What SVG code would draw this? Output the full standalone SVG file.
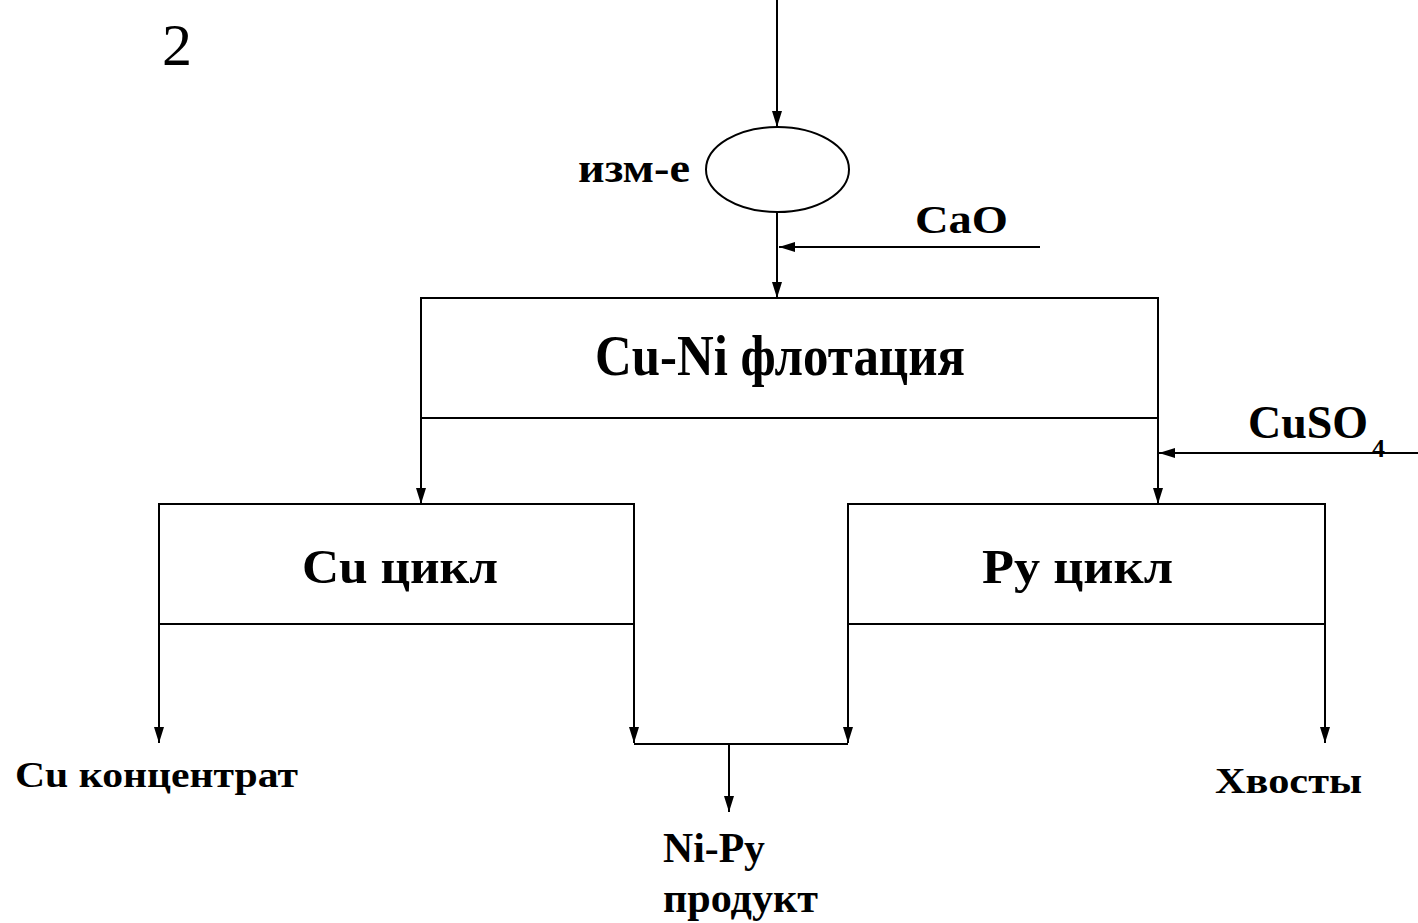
<svg xmlns="http://www.w3.org/2000/svg" width="1418" height="923" viewBox="0 0 1418 923">
<style>
.ln{stroke:#000;stroke-width:2;fill:none}
.bx{stroke:#000;stroke-width:2;fill:#fff}
text{font-family:Liberation Serif,Times New Roman,Times,serif;fill:#000}
.t{font-weight:bold}
</style>
<defs>
<marker id="ahl" viewBox="0 0 16 12" refX="16" refY="6" markerWidth="16" markerHeight="12" markerUnits="userSpaceOnUse" orient="auto">
<path d="M0,1 L16,6 L0,11 Z" fill="#000"/>
</marker>
</defs>
<rect width="1418" height="923" fill="#fff"/>
<text x="162" y="65" font-family="Liberation Serif, serif" font-size="60">2</text>
<g id="connectors">
<line class="ln" x1="777" y1="0" x2="777" y2="127" marker-end="url(#ahl)"/>
<line class="ln" x1="777" y1="212" x2="777" y2="298" marker-end="url(#ahl)"/>
<line class="ln" x1="1040" y1="247" x2="779" y2="247" marker-end="url(#ahl)"/>
<line class="ln" x1="1418" y1="453" x2="1159" y2="453" marker-end="url(#ahl)"/>
<line class="ln" x1="421" y1="418" x2="421" y2="504" marker-end="url(#ahl)"/>
<line class="ln" x1="1158" y1="418" x2="1158" y2="504" marker-end="url(#ahl)"/>
<line class="ln" x1="159" y1="624" x2="159" y2="743" marker-end="url(#ahl)"/>
<line class="ln" x1="634" y1="624" x2="634" y2="743" marker-end="url(#ahl)"/>
<line class="ln" x1="848" y1="624" x2="848" y2="743" marker-end="url(#ahl)"/>
<line class="ln" x1="1325" y1="624" x2="1325" y2="743" marker-end="url(#ahl)"/>
<line class="ln" x1="634" y1="744" x2="848" y2="744"/>
<line class="ln" x1="729" y1="744" x2="729" y2="812" marker-end="url(#ahl)"/>
</g>
<g id="grinding">
<ellipse class="bx" cx="777.5" cy="169.5" rx="71.5" ry="42.5"/>
<text class="t" font-family="Liberation Serif, serif" x="578" y="182" font-size="42" textLength="112" lengthAdjust="spacingAndGlyphs">изм-е</text>
</g>
<g id="cao">
<text class="t" font-family="Liberation Serif, serif" x="915" y="233" font-size="40" textLength="93" lengthAdjust="spacingAndGlyphs">CaO</text>
</g>
<g id="cuni-flotation">
<rect class="bx" x="421" y="298" width="737" height="120"/>
<text class="t" font-family="Liberation Serif, serif" x="595" y="375" font-size="58" textLength="370" lengthAdjust="spacingAndGlyphs">Cu-Ni флотация</text>
</g>
<g id="cuso4">
<text class="t" font-family="Liberation Serif, serif" x="1248" y="438" font-size="47" textLength="120" lengthAdjust="spacingAndGlyphs">CuSO</text>
<text class="t" font-family="Liberation Serif, serif" x="1372" y="457" font-size="26">4</text>
</g>
<g id="cu-cycle">
<rect class="bx" x="159" y="504" width="475" height="120"/>
<text class="t" font-family="Liberation Serif, serif" x="302" y="583" font-size="49" textLength="196" lengthAdjust="spacingAndGlyphs">Cu цикл</text>
</g>
<g id="py-cycle">
<rect class="bx" x="848" y="504" width="477" height="120"/>
<text class="t" font-family="Liberation Serif, serif" x="982" y="583" font-size="49" textLength="191" lengthAdjust="spacingAndGlyphs">Py цикл</text>
</g>
<g id="cu-concentrate">
<text class="t" font-family="Liberation Serif, serif" x="15" y="787" font-size="36" textLength="283" lengthAdjust="spacingAndGlyphs">Cu концентрат</text>
</g>
<g id="tailings">
<text class="t" font-family="Liberation Serif, serif" x="1215" y="793" font-size="35" textLength="147" lengthAdjust="spacingAndGlyphs">Хвосты</text>
</g>
<g id="nipy-product">
<text class="t" font-family="Liberation Serif, serif" x="663" y="862" font-size="42" textLength="102" lengthAdjust="spacingAndGlyphs">Ni-Py</text>
<text class="t" font-family="Liberation Serif, serif" x="663" y="912" font-size="42" textLength="155" lengthAdjust="spacingAndGlyphs">продукт</text>
</g>
</svg>
